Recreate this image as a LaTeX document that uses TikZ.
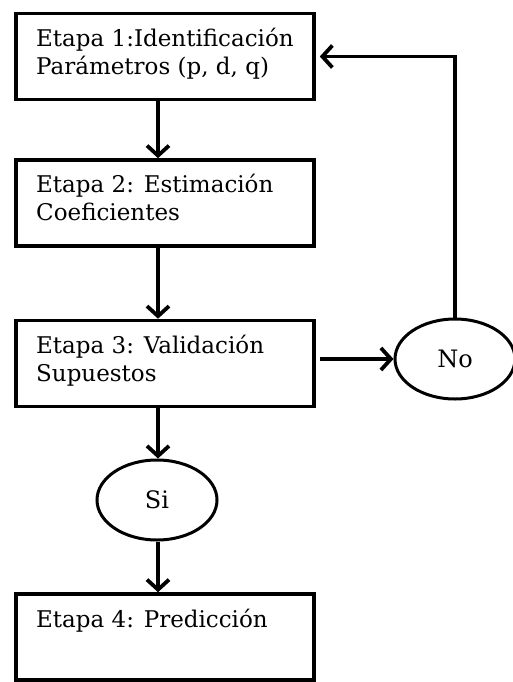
\documentclass[tikz,border=0pt]{standalone}
\usepackage{fontspec}
\setmainfont{DejaVu Serif}
\usetikzlibrary{shapes.geometric,arrows.meta}
\begin{document}
\begin{tikzpicture}[x=1pt,y=-1pt,
  stepbox/.style={draw,line width=3.6pt,minimum width=298pt,minimum height=86pt,inner sep=0pt},
  oval/.style={draw,ellipse,line width=3pt,minimum width=120pt,minimum height=80pt,inner sep=0pt,font=\fontsize{24}{26}\selectfont},
  txt/.style={anchor=base west,align=left,inner sep=0pt,font=\fontsize{23}{28}\selectfont},
  flow/.style={line width=3.6pt,-{Straight Barb[length=10pt,width=22pt,line width=3.8pt]}}]
\useasboundingbox (0,0) rectangle (512,682);
% process boxes
\node[stepbox] (b1) at (165,56.5) {};
\node[stepbox] (b2) at (165,203) {};
\node[stepbox] (b3) at (165,363.5) {};
\node[stepbox] (b4) at (165,637) {};
% box texts (anchored at the baseline of their last line)
\node[txt] (t1) at (36,75) {Etapa 1:Identificación\\Parámetros (p, d, q)};
\node[txt] (t2) at (36,220) {Etapa 2: Estimación\\Coeficientes};
\node[txt] (t3) at (36,381) {Etapa 3: Validación\\Supuestos};
\node[txt] (t4) at (36,627) {Etapa 4: Predicción};
% decisions
\node[oval] (si) at (157,500) {Si};
\node[oval] (no) at (455,359) {No};
% connectors
\draw[flow] (b1.south -| 158,0) -- (b2.north -| 158,0);
\draw[flow] (b2.south -| 158,0) -- (b3.north -| 158,0);
\draw[flow] (b3.south -| 158,0) -- (si.north -| 158,0);
\draw[flow] (si.south -| 158,0) -- (b4.north -| 158,0);
\draw[flow,shorten <=4pt] (b3.east |- no) -- (no.west);
\draw[flow,shorten >=4pt] (no.north) |- (b1.east);
\end{tikzpicture}
\end{document}
